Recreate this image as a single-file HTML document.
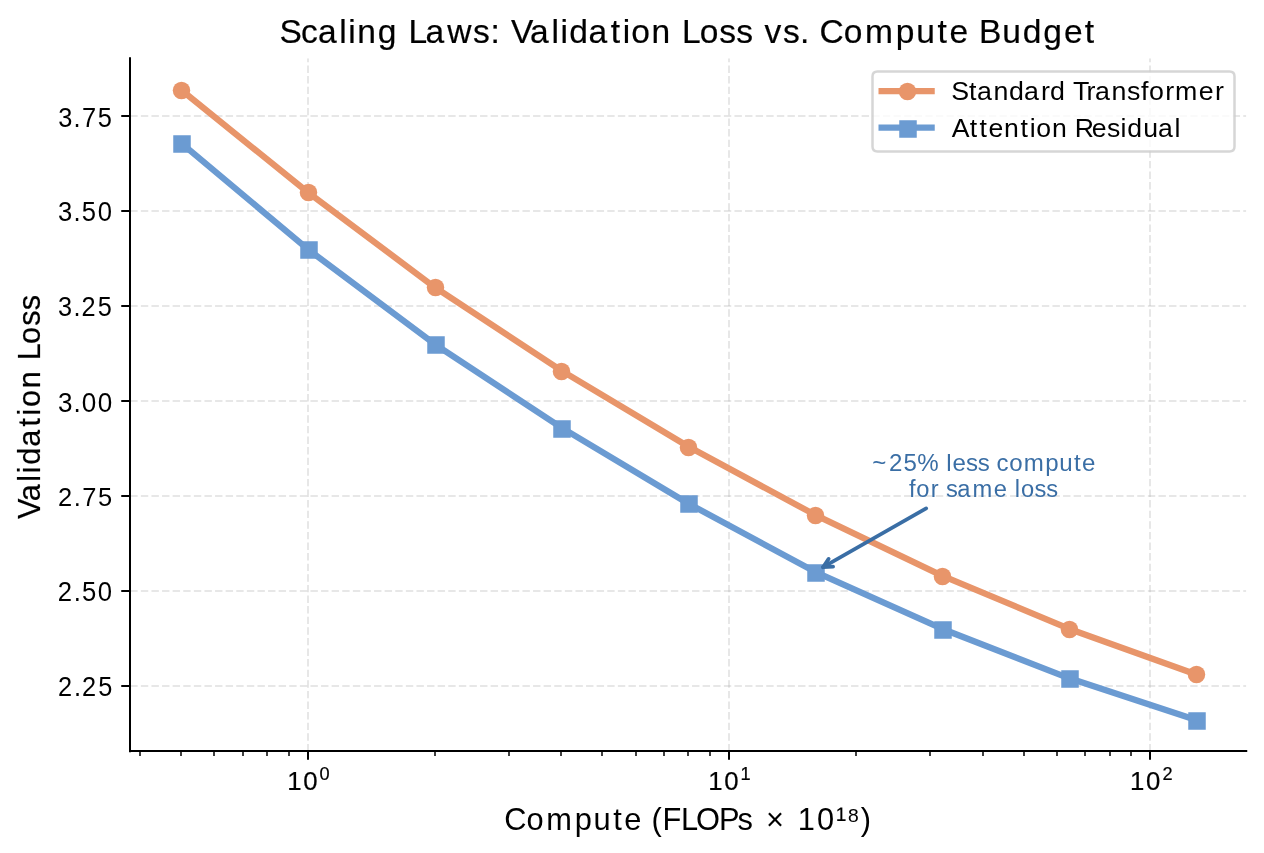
<!DOCTYPE html>
<html><head><meta charset="utf-8"><title>Scaling Laws: Validation Loss vs. Compute Budget</title>
<style>html,body{margin:0;padding:0;background:#fff;width:1264px;height:853px;overflow:hidden}svg{display:block;will-change:transform}</style>
</head><body>
<svg width="1264" height="853" viewBox="0 0 1264 853">
<defs><clipPath id="ax"><rect x="130.25" y="58.3" width="1116" height="693"/></clipPath></defs>
<rect width="1264" height="853" fill="#ffffff"/>
<g clip-path="url(#ax)" fill="none" stroke="#b0b0b0" stroke-opacity="0.3" stroke-width="2" stroke-dasharray="7.4 3.2">
<path d="M308 751.3 V58.3"/>
<path d="M729 751.3 V58.3"/>
<path d="M1150 751.3 V58.3"/>
<path d="M130.25 686H1246.25"/>
<path d="M130.25 591H1246.25"/>
<path d="M130.25 496H1246.25"/>
<path d="M130.25 401H1246.25"/>
<path d="M130.25 306H1246.25"/>
<path d="M130.25 211H1246.25"/>
<path d="M130.25 116H1246.25"/>
</g>
<path d="M180.977 89.8 L307.795 192.27 L434.614 287.149 L561.432 370.643 L688.25 446.547 L815.068 514.86 L941.886 575.583 L1068.705 628.716 L1195.523 674.258" fill="none" stroke="#E8956A" stroke-width="6.25" stroke-linejoin="round" stroke-linecap="square"/>
<g fill="#E8956A">
<circle cx="181.5" cy="90.5" r="8.75"/>
<circle cx="308.5" cy="192.5" r="8.75"/>
<circle cx="435.5" cy="287.5" r="8.75"/>
<circle cx="561.5" cy="371.5" r="8.75"/>
<circle cx="688.5" cy="447.5" r="8.75"/>
<circle cx="815.5" cy="515.5" r="8.75"/>
<circle cx="942.5" cy="576.5" r="8.75"/>
<circle cx="1069.5" cy="629.5" r="8.75"/>
<circle cx="1196.5" cy="674.5" r="8.75"/>
</g>
<path d="M180.977 142.933 L307.795 249.198 L434.614 344.077 L561.432 427.571 L688.25 503.475 L815.068 571.788 L941.886 628.716 L1068.705 678.053 L1195.523 719.8" fill="none" stroke="#6B9BD2" stroke-width="6.25" stroke-linejoin="round" stroke-linecap="square"/>
<g fill="#6B9BD2">
<rect x="173.25" y="135.25" width="17.5" height="17.5"/>
<rect x="300.25" y="241.25" width="17.5" height="17.5"/>
<rect x="427.25" y="336.25" width="17.5" height="17.5"/>
<rect x="553.25" y="420.25" width="17.5" height="17.5"/>
<rect x="680.25" y="495.25" width="17.5" height="17.5"/>
<rect x="807.25" y="564.25" width="17.5" height="17.5"/>
<rect x="934.25" y="621.25" width="17.5" height="17.5"/>
<rect x="1061.25" y="670.25" width="17.5" height="17.5"/>
<rect x="1188.25" y="712.25" width="17.5" height="17.5"/>
</g>
<path d="M130 751.3 V58.3" stroke="#000" stroke-width="2" stroke-linecap="square" fill="none"/>
<path d="M130.25 751 H1246.25" stroke="#000" stroke-width="2" stroke-linecap="square" fill="none"/>
<path d="M308 751v8.75 M729 751v8.75 M1150 751v8.75" stroke="#000" stroke-width="2" fill="none"/>
<path d="M140 751v5 M181 751v5 M214 751v5 M243 751v5 M267 751v5 M289 751v5 M435 751v5 M509 751v5 M561 751v5 M602 751v5 M636 751v5 M664 751v5 M688 751v5 M710 751v5 M856 751v5 M930 751v5 M983 751v5 M1024 751v5 M1057 751v5 M1085 751v5 M1110 751v5 M1131 751v5" stroke="#000" stroke-width="1.5" fill="none"/>
<path d="M130 686h-8.75 M130 591h-8.75 M130 496h-8.75 M130 401h-8.75 M130 306h-8.75 M130 211h-8.75 M130 116h-8.75" stroke="#000" stroke-width="2" fill="none"/>
<path d="M926.17 508.36 Q872.79 538.84 823.05 567.23" fill="none" stroke="#3A6EA5" stroke-width="3.75" stroke-linecap="round" stroke-linejoin="round"/>
<path d="M833.1 566.68 L823.05 567.23 L828.64 558.86" fill="none" stroke="#3A6EA5" stroke-width="3.75" stroke-linecap="round" stroke-linejoin="round"/>
<path d="M877.5 151.5 L1229.5 151.5 Q1234.5 151.5 1234.5 146.5 L1234.5 76.5 Q1234.5 71.5 1229.5 71.5 L877.5 71.5 Q872.5 71.5 872.5 76.5 L872.5 146.5 Q872.5 151.5 877.5 151.5 Z" fill="#ffffff" fill-opacity="0.8" stroke="#cccccc" stroke-opacity="0.8" stroke-width="2.5"/>
<path d="M881.625 91.05H931.625" stroke="#E8956A" stroke-width="6.25" stroke-linecap="square" fill="none"/>
<circle cx="907.5" cy="91.5" r="8.75" fill="#E8956A"/>
<path d="M881.625 127.55H931.625" stroke="#6B9BD2" stroke-width="6.25" stroke-linecap="square" fill="none"/>
<rect x="899.25" y="120.25" width="17.5" height="17.5" fill="#6B9BD2"/>
<g font-family="'Liberation Sans', sans-serif">
<text transform="translate(280.093 43.408) scale(1.0324 1.0504)" x="-0.68 20.14 36.72 57.43 66.04 74.86 94.59 114.3 124.26 140.85 161.91 186.87 203.84 214.07 223.55 242.19 262.89 271.5 280.08 298.73 320.25 331.8 340.22 359.88 379.34 389.29 406.45 425.39 441.86 458.52 469.27 487.02 503.66 513.73 522.37 545.93 566.46 596.37 616.18 636.86 648.34 667.5 676.97 699.48 719.34 739.32 759.25 779.49" font-size="32.5" fill="#000" stroke="#000" stroke-width="0.2">Scaling Laws: Validation Loss vs. Compute Budget</text>
<text transform="translate(505.127 830.069) scale(1.0274 1.0467)" x="-0.8 20.92 40.01 67.79 86.14 105.27 115.92 133.7 142.42 153.1 171.12 185.74 208.08 226.25 241.62 253.87 275.33 284.89 303.66 322.11 332.56 346.15" font-size="30" fill="#000">Compute (FLOPs × 10¹⁸)</text>
<text transform="translate(39.943 518.963) rotate(-90) scale(1.0199 1.0523)" x="0.05 17.35 36.54 44.89 53.26 70.78 90.75 101.51 109.74 128.13 146.23 155.52 171.63 189.35 204.67" font-size="30" fill="#000" stroke="#000" stroke-width="0.2">Validation Loss</text>
<text transform="translate(57.46 696.02) scale(1.0135 1.0683)" x="0.56 16.22 24.24 40.26" font-size="25" fill="#000">2.25</text>
<text transform="translate(57.305 601.157) scale(1.0257 1.0700)" x="0.47 15.99 24.1 39.55" font-size="25" fill="#000">2.50</text>
<text transform="translate(57.421 506.13) scale(1.0182 1.0673)" x="0.53 16.13 24.38 39.92" font-size="25" fill="#000">2.75</text>
<text transform="translate(57.247 411.988) scale(1.0429 1.0727)" x="0.7 15.55 23.56 38.78" font-size="25" fill="#000">3.00</text>
<text transform="translate(57.173 316.007) scale(1.0124 1.0700)" x="0.93 16.12 24.16 40.19" font-size="25" fill="#000">3.25</text>
<text transform="translate(57.262 221.113) scale(1.0244 1.0717)" x="0.84 15.89 24.02 39.49" font-size="25" fill="#000">3.50</text>
<text transform="translate(57.24 127.284) scale(1.0169 1.0690)" x="0.89 16.03 24.29 39.85" font-size="25" fill="#000">3.75</text>
<text transform="translate(286.564 789.772) scale(1.0317 1.0640)" x="0.63 16.14" font-size="25" fill="#000" stroke="#000" stroke-width="0.2">10</text>
<text transform="translate(319.556 780) scale(1.0000 1.0000)" font-size="18.2" fill="#000" stroke="#000" stroke-width="0.2">0</text>
<text transform="translate(707.524 789.775) scale(1.0317 1.0640)" x="0.63 16.14" font-size="25" fill="#000" stroke="#000" stroke-width="0.2">10</text>
<text transform="translate(740.509 779.627) scale(1.0000 1.0000)" font-size="18.2" fill="#000" stroke="#000" stroke-width="0.2">1</text>
<text transform="translate(1129.403 789.774) scale(1.0317 1.0640)" x="0.63 16.14" font-size="25" fill="#000" stroke="#000" stroke-width="0.2">10</text>
<text transform="translate(1162.497 779.894) scale(1.0000 1.0000)" font-size="18.2" fill="#000" stroke="#000" stroke-width="0.2">2</text>
<text transform="translate(952.026 99.913) scale(1.0716 1.0501)" x="-0.81 15.85 23.22 38.63 53.27 67.08 83.07 91.53 106.26 112.99 125.53 133.45 148.86 163.18 176.36 183.91 199.02 208.17 230.18 245.32" font-size="25" fill="#000">Standard Transformer</text>
<text transform="translate(951.988 136.683) scale(1.0654 1.0551)" x="-0.32 16.67 25.82 34.22 48.87 64.3 72.89 79.2 93.81 108.43 115.18 131.25 145.4 158.19 164.62 179.6 193.41 208.86" font-size="25" fill="#000">Attention Residual</text>
<text transform="translate(869.986 470.514) scale(1.0709 1.0595)" x="2.23 17.77 31.27 44.22 64.41 71.27 76.94 89.64 100.62 111.8 118.14 129.97 143.56 163.6 176.73 190.5 197.98" font-size="22.5" fill="#3A6EA5">~25% less compute</text>
<text transform="translate(907.972 497.398) scale(1.0538 1.0479)" x="0.91 7.75 21.57 29.57 36.15 46.69 61.34 81.37 94.45 101.41 107.16 120.01 131.16" font-size="22.5" fill="#3A6EA5">for same loss</text>
</g>
</svg>
</body></html>
